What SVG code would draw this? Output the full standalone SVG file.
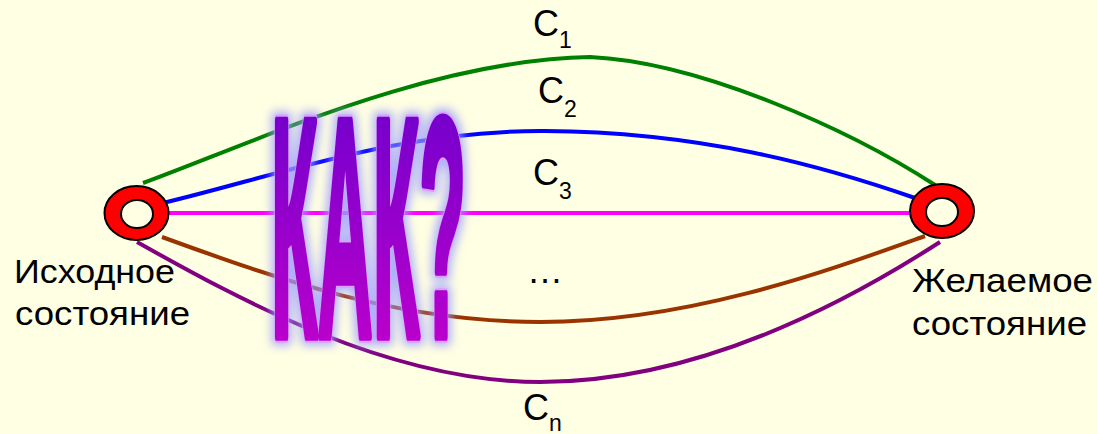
<svg xmlns="http://www.w3.org/2000/svg" width="1097" height="434" viewBox="0 0 1097 434">
<style>
.lbl{font-family:"Liberation Sans",Arial,sans-serif;font-size:34px;fill:#000}
.c{font-family:"Liberation Sans",Arial,sans-serif;font-size:36px;fill:#000}
.sub{font-size:23px}
.ln{fill:none;stroke-width:4;stroke-linecap:butt}
.ring{fill:#FF0000;stroke:#000;stroke-width:2}
.hole{fill:#FFFFE3;stroke:#000;stroke-width:2}
.kak{font-family:"Liberation Sans",Arial,sans-serif;font-weight:bold;font-size:100px}
</style>
<defs>
<linearGradient id="kg" x1="0" y1="0" x2="0" y2="1">
<stop offset="0" stop-color="#6400CC"/>
<stop offset="1" stop-color="#CC00CC"/>
</linearGradient>
<filter id="glow" x="-20%" y="-10%" width="140%" height="120%">
<feMorphology in="SourceAlpha" operator="dilate" radius="3" result="d"/>
<feGaussianBlur in="d" stdDeviation="5" result="b"/>
<feFlood flood-color="#9C9CFF" flood-opacity="0.8"/>
<feComposite operator="in" in2="b" result="g"/>
<feMerge><feMergeNode in="g"/><feMergeNode in="SourceGraphic"/></feMerge>
</filter>
</defs>
<rect width="1097" height="434" fill="#FFFFE3"/>
<g id="connectors">
<path class="ln" stroke="#008000" d="M143,183 C260,140 430,60 590,57 C700,62 850,130 935,185"/>
<path class="ln" stroke="#0000FF" d="M163,203 C280,175 400,130 545,131 C700,132 820,165 915,198"/>
<path class="ln" stroke="#FF00FF" stroke-width="3" d="M168,213 L910,213"/>
<path class="ln" stroke="#993300" d="M162,237 C280,280 400,322 540,322 C690,322 830,270 925,236"/>
<path class="ln" stroke="#800080" d="M137,242 C240,300 390,382 540,382 C700,382 850,300 940,242"/>
</g>
<g id="node-start">
<ellipse class="ring" cx="136.5" cy="213" rx="32" ry="27"/>
<ellipse class="hole" cx="137" cy="214" rx="16" ry="14"/>
<text class="lbl" x="14" y="283" textLength="161" lengthAdjust="spacingAndGlyphs">Исходное</text>
<text class="lbl" x="15" y="325" textLength="175" lengthAdjust="spacingAndGlyphs">состояние</text>
</g>
<g id="node-end">
<ellipse class="ring" cx="942" cy="211" rx="32" ry="27"/>
<ellipse class="hole" cx="942" cy="212" rx="16" ry="14"/>
<text class="lbl" x="912" y="292" textLength="181" lengthAdjust="spacingAndGlyphs">Желаемое</text>
<text class="lbl" x="912" y="335" textLength="175" lengthAdjust="spacingAndGlyphs">состояние</text>
</g>
<g id="labels">
<text class="c" x="533" y="36">C<tspan class="sub" dy="12">1</tspan></text>
<text class="c" x="538" y="103">C<tspan class="sub" dy="14">2</tspan></text>
<text class="c" x="533" y="185">C<tspan class="sub" dy="14">3</tspan></text>
<text class="c" x="527" y="283">…</text>
<text class="c" x="523" y="420">C<tspan class="sub" dy="11">n</tspan></text>
</g>
<g id="kak" filter="url(#glow)">
<text class="kak" x="0" y="0" transform="translate(271,336) scale(1,3.12)" textLength="195" lengthAdjust="spacingAndGlyphs" fill="url(#kg)" stroke="#D8A0FF" stroke-width="10" stroke-linejoin="round" vector-effect="non-scaling-stroke">КАК?</text>
<text class="kak" x="0" y="0" transform="translate(271,336) scale(1,3.12)" textLength="195" lengthAdjust="spacingAndGlyphs" fill="url(#kg)" stroke="url(#kg)" stroke-width="7" stroke-linejoin="round" vector-effect="non-scaling-stroke">КАК?</text>
</g>
</svg>
